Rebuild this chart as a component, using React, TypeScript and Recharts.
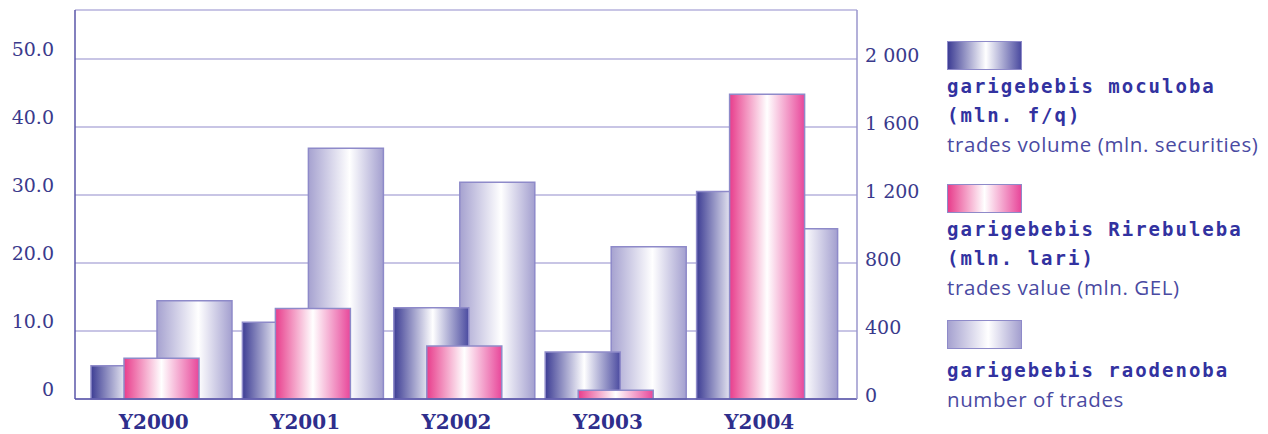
import { BarChart, Bar, CartesianGrid, XAxis, YAxis } from "recharts";

// trades volume / value (left axis) and number of trades (right axis), 2000-2004

const years = ["Y2000", "Y2001", "Y2002", "Y2003", "Y2004"];
const tradesVolume = [4.9, 11.3, 13.4, 6.9, 30.5]; // mln. securities
const tradesValue = [6.0, 13.3, 7.8, 1.3, 44.8]; // mln. GEL
const tradesCount = [578, 1475, 1275, 896, 1002]; // number of trades

const leftTicks = [0, 10, 20, 30, 40, 50];
const rightTicks = [0, 400, 800, 1200, 1600, 2000];

const legendItems = [
  { ge: "garigebebis moculoba", ge2: "(mln. f/q)", en: "trades volume (mln. securities)", grad: "linear-gradient(to right, #3d3d94 0%, #ffffff 52%, #4b4ba0 100%)" },
  { ge: "garigebebis Rirebuleba", ge2: "(mln. lari)", en: "trades value (mln. GEL)", grad: "linear-gradient(to right, #e83d8c 0%, #ffffff 50%, #e8479a 100%)" },
  { ge: "garigebebis raodenoba", ge2: null, en: "number of trades", grad: "linear-gradient(to right, #a6a2d0 0%, #ffffff 55%, #a39fcf 100%)" },
];
const legendTops = [41, 184, 320];
const legendGaps = [2, 2, 7];

const data = years.map((year, i) => ({
  year,
  volume: tradesVolume[i],
  value: tradesValue[i],
  count: tradesCount[i],
}));

const fmtLeft = (v: number) => (v === 0 ? "0" : v.toFixed(1));
const fmtRight = (v: number) =>
  v >= 1000 ? `${Math.floor(v / 1000)} ${String(v % 1000).padStart(3, "0")}` : String(v);

const tickFont = { fill: "#3a3a8c", fontSize: 19, fontFamily: "DejaVu Serif" };
const barStroke = "#8e8ac9";
const geStyle = {
  fontFamily: "DejaVu Sans Mono",
  fontWeight: "bold" as const,
  fontSize: 19,
  letterSpacing: 2,
  color: "#3232a0",
  whiteSpace: "nowrap" as const,
};

export default function App() {
  return (
    <div style={{ position: "absolute", left: 0, top: 0, width: 1268, height: 434, background: "#fff" }}>
      <BarChart
        width={1268}
        height={434}
        data={data}
        barGap={-42}
        margin={{ top: 10, right: 351, left: 15, bottom: 5 }}
      >
        <defs>
          <linearGradient id="gBlue" x1="0" y1="0" x2="1" y2="0">
            <stop offset="0%" stopColor="#3d3d94" />
            <stop offset="52%" stopColor="#ffffff" />
            <stop offset="100%" stopColor="#4b4ba0" />
          </linearGradient>
          <linearGradient id="gPink" x1="0" y1="0" x2="1" y2="0">
            <stop offset="0%" stopColor="#e83d8c" />
            <stop offset="50%" stopColor="#ffffff" />
            <stop offset="100%" stopColor="#e8479a" />
          </linearGradient>
          <linearGradient id="gLav" x1="0" y1="0" x2="1" y2="0">
            <stop offset="0%" stopColor="#a6a2d0" />
            <stop offset="55%" stopColor="#ffffff" />
            <stop offset="100%" stopColor="#a39fcf" />
          </linearGradient>
        </defs>
        <CartesianGrid yAxisId="left" xAxisId="back" vertical={false} stroke="#b6b2dc" strokeWidth={1.5} />
        <XAxis
          xAxisId="back"
          dataKey="year"
          height={30}
          padding={{ left: 11, right: 14 }}
          axisLine={{ stroke: "#5a56a8", strokeWidth: 1.5 }}
          tickLine={false}
          tickSize={6}
          tickMargin={10}
          tick={{ fill: "#2e2e8c", fontSize: 20, fontWeight: "bold", fontFamily: "DejaVu Serif", dx: -8 }}
        />
        <XAxis xAxisId="front" dataKey="year" hide padding={{ left: 11, right: 14 }} />
        <YAxis
          yAxisId="left"
          width={60}
          domain={[0, 57.2]}
          ticks={leftTicks}
          tickFormatter={fmtLeft}
          axisLine={{ stroke: "#5a56a8", strokeWidth: 1.5 }}
          tickLine={false}
          tickSize={6}
          tickMargin={15}
          tick={{ ...tickFont, dy: -10 }}
        />
        <YAxis
          yAxisId="right"
          orientation="right"
          width={60}
          domain={[0, 2288]}
          ticks={rightTicks}
          tickFormatter={fmtRight}
          axisLine={{ stroke: "#9a96cc", strokeWidth: 1.5 }}
          tickLine={false}
          tickSize={6}
          tickMargin={2}
          tick={{ ...tickFont, dy: -4 }}
        />
        {/* back layer: number of trades sits behind the other two bars */}
        <Bar xAxisId="back" yAxisId="left" dataKey="volume" barSize={75} fillOpacity={0} isAnimationActive={false} />
        <Bar xAxisId="back" yAxisId="left" dataKey="value" barSize={75} fillOpacity={0} isAnimationActive={false} />
        <Bar xAxisId="back" yAxisId="right" dataKey="count" barSize={75} fill="url(#gLav)" stroke={barStroke} strokeWidth={1.5} isAnimationActive={false} />
        {/* front layer */}
        <Bar xAxisId="front" yAxisId="left" dataKey="volume" barSize={75} fill="url(#gBlue)" stroke={barStroke} strokeWidth={1.5} isAnimationActive={false} />
        <Bar xAxisId="front" yAxisId="left" dataKey="value" barSize={75} fill="url(#gPink)" stroke={barStroke} strokeWidth={1.5} isAnimationActive={false} />
        <Bar xAxisId="front" yAxisId="right" dataKey="count" barSize={75} fillOpacity={0} isAnimationActive={false} />
      </BarChart>

      {legendItems.map((it, i) => (
        <div key={it.en} style={{ position: "absolute", left: 947, top: legendTops[i] }}>
          <div style={{ width: 73, height: 27, background: it.grad, border: `1.5px solid ${barStroke}` }} />
          <div style={{ marginTop: legendGaps[i], lineHeight: "29px" }}>
            <div style={geStyle}>{it.ge}</div>
            {it.ge2 && <div style={geStyle}>{it.ge2}</div>}
            <div style={{ fontFamily: "Open Sans", fontSize: 20.5, letterSpacing: 0.6, color: "#4a4aa2", whiteSpace: "nowrap" }}>
              {it.en}
            </div>
          </div>
        </div>
      ))}
    </div>
  );
}
